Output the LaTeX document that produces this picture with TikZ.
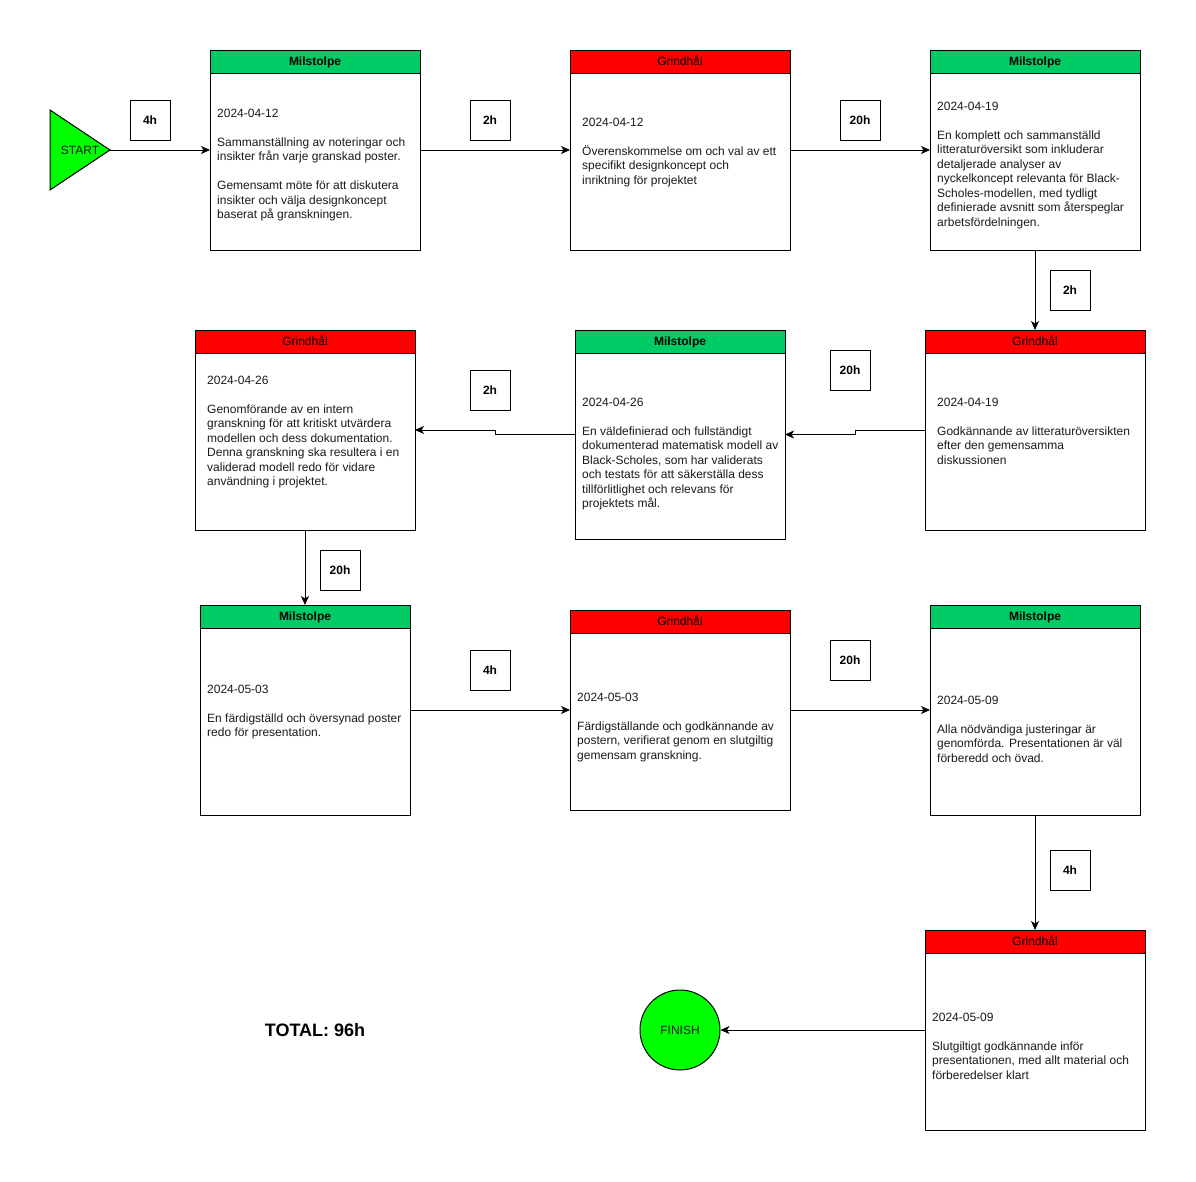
\documentclass[tikz,border=0pt]{standalone}
\usepackage{fontspec}
\setmainfont{Liberation Sans}
\usepackage{tikz}
\usetikzlibrary{arrows.meta,calc,positioning}
\usepackage{xcolor}
\definecolor{mileg}{HTML}{00CC66}
\definecolor{gatered}{HTML}{FF0000}
\definecolor{startg}{HTML}{00FF00}
\definecolor{txt}{HTML}{1A1A1A}
\tikzset{phase/.style={draw=black,fill=white,anchor=north west,inner sep=0pt,outer sep=0pt,line width=1pt}, milehead/.style={draw=black,fill=mileg,anchor=north,inner sep=0pt,outer sep=0pt,minimum height=23,text height=8.6pt,text depth=0pt,line width=1pt,font=\bfseries\fontsize{12}{14}\selectfont}, gatehead/.style={draw=black,fill=gatered,anchor=north,inner sep=0pt,outer sep=0pt,minimum height=23,text height=8.6pt,text depth=0pt,line width=1pt,font=\fontsize{12}{14}\selectfont}, body/.style={anchor=north west,align=left,inner sep=0pt,text=txt,font=\fontsize{12}{14.5}\selectfont}, hours/.style={draw=black,fill=white,minimum size=40,inner sep=0pt,line width=1pt,font=\bfseries\fontsize{12}{14}\selectfont}, flow/.style={draw=black,line width=1pt,-{Stealth[length=9pt,width=8pt,inset=2.5pt]}}}

\begin{document}
\begin{tikzpicture}[x=1pt,y=-1pt]
\fill[white] (0,0) rectangle (1196,1181);
\useasboundingbox (0,0) rectangle (1196,1181);
% start
\draw[draw=black,fill=startg,line width=1pt] (50,110) -- (110,150) -- (50,190) -- cycle;
\node[text=txt,font=\fontsize{12}{14}\selectfont] (start) at (80,150) {START};
\coordinate (starttip) at (110,150);
% first row
\node[phase,minimum width=210,minimum height=200] (a1) at (210,50) {};
\node[milehead,minimum width=210] (a1h) at (a1.north) {Milstolpe};
\node[body] (a1t) at (217,108.5) {2024-04-12\\[14.5pt] Sammanställning av noteringar och\\ insikter från varje granskad poster.\\[14.5pt] Gemensamt möte för att diskutera\\ insikter och välja designkoncept\\ baserat på granskningen.};
\node[phase,minimum width=220,minimum height=200] (a2) at (570,50) {};
\node[gatehead,minimum width=220] (a2h) at (a2.north) {Grindhål};
\node[body] (a2t) at (582,117.5) {2024-04-12\\[14.5pt] Överenskommelse om och val av ett\\ specifikt designkoncept och\\ inriktning för projektet};
\node[phase,minimum width=210,minimum height=200] (a3) at (930,50) {};
\node[milehead,minimum width=210] (a3h) at (a3.north) {Milstolpe};
\node[body] (a3t) at (937,101.5) {2024-04-19\\[14.5pt] En komplett och sammanställd\\ litteraturöversikt som inkluderar\\ detaljerade analyser av\\ nyckelkoncept relevanta för Black-\\ Scholes-modellen, med tydligt\\ definierade avsnitt som återspeglar\\ arbetsfördelningen.};
% second row
\node[phase,minimum width=220,minimum height=200] (b1) at (925,330) {};
\node[gatehead,minimum width=220] (b1h) at (b1.north) {Grindhål};
\node[body] (b1t) at (937,397.5) {2024-04-19\\[14.5pt] Godkännande av litteraturöversikten\\ efter den gemensamma\\ diskussionen};
\node[phase,minimum width=210,minimum height=209] (b2) at (575,330) {};
\node[milehead,minimum width=210] (b2h) at (b2.north) {Milstolpe};
\node[body] (b2t) at (582,397.5) {2024-04-26\\[14.5pt] En väldefinierad och fullständigt\\ dokumenterad matematisk modell av\\ Black-Scholes, som har validerats\\ och testats för att säkerställa dess\\ tillförlitlighet och relevans för\\ projektets mål.};
\node[phase,minimum width=220,minimum height=200] (b3) at (195,330) {};
\node[gatehead,minimum width=220] (b3h) at (b3.north) {Grindhål};
\node[body] (b3t) at (207,375.5) {2024-04-26\\[14.5pt] Genomförande av en intern\\ granskning för att kritiskt utvärdera\\ modellen och dess dokumentation.\\ Denna granskning ska resultera i en\\ validerad modell redo för vidare\\ användning i projektet.};
% third row
\node[phase,minimum width=210,minimum height=210] (c1) at (200,605) {};
\node[milehead,minimum width=210] (c1h) at (c1.north) {Milstolpe};
\node[body] (c1t) at (207,684.5) {2024-05-03\\[14.5pt] En färdigställd och översynad poster\\ redo för presentation.};
\node[phase,minimum width=220,minimum height=200] (c2) at (570,610) {};
\node[gatehead,minimum width=220] (c2h) at (c2.north) {Grindhål};
\node[body] (c2t) at (577,692.5) {2024-05-03\\[14.5pt] Färdigställande och godkännande av\\ postern, verifierat genom en slutgiltig\\ gemensam granskning.};
\node[phase,minimum width=210,minimum height=210] (c3) at (930,605) {};
\node[milehead,minimum width=210] (c3h) at (c3.north) {Milstolpe};
\node[body] (c3t) at (937,695.5) {2024-05-09\\[14.5pt] Alla nödvändiga justeringar är\\ genomförda. Presentationen är väl\\ förberedd och övad.};
% last row
\node[phase,minimum width=220,minimum height=200] (d1) at (925,930) {};
\node[gatehead,minimum width=220] (d1h) at (d1.north) {Grindhål};
\node[body] (d1t) at (932,1012.5) {2024-05-09\\[14.5pt] Slutgiltigt godkännande inför\\ presentationen, med allt material och\\ förberedelser klart};
\node[circle,draw=black,fill=startg,line width=1pt,minimum size=80,inner sep=0pt,text=txt,font=\fontsize{12}{14}\selectfont] (finish) at (680,1030) {FINISH};
\node[font=\bfseries\fontsize{18}{20}\selectfont] (total) at (315,1030) {TOTAL: 96h};
% connectors
\draw[flow] (starttip) -- (a1.west);
\draw[flow] (a1.east) -- (a2.west);
\draw[flow] (a2.east) -- (a3.west);
\draw[flow] (a3.south) -- (b1.north);
\draw[flow] (b1.west) -- ++(-70,0) |- (b2.east);
\draw[flow] (b2.west) -- ++(-80,0) |- (b3.east);
\draw[flow] (b3.south) -- (c1.north);
\draw[flow] (c1.east) -- (c2.west);
\draw[flow] (c2.east) -- (c3.west);
\draw[flow] (c3.south) -- (d1.north);
\draw[flow] (d1.west) -- (finish.east);
% durations
\node[hours] (h1) at (150,120) {4h};
\node[hours] (h2) at (490,120) {2h};
\node[hours] (h3) at (860,120) {20h};
\node[hours] (h4) at (1070,290) {2h};
\node[hours] (h5) at (850,370) {20h};
\node[hours] (h6) at (490,390) {2h};
\node[hours] (h7) at (340,570) {20h};
\node[hours] (h8) at (490,670) {4h};
\node[hours] (h9) at (850,660) {20h};
\node[hours] (h10) at (1070,870) {4h};
\end{tikzpicture}
\end{document}
